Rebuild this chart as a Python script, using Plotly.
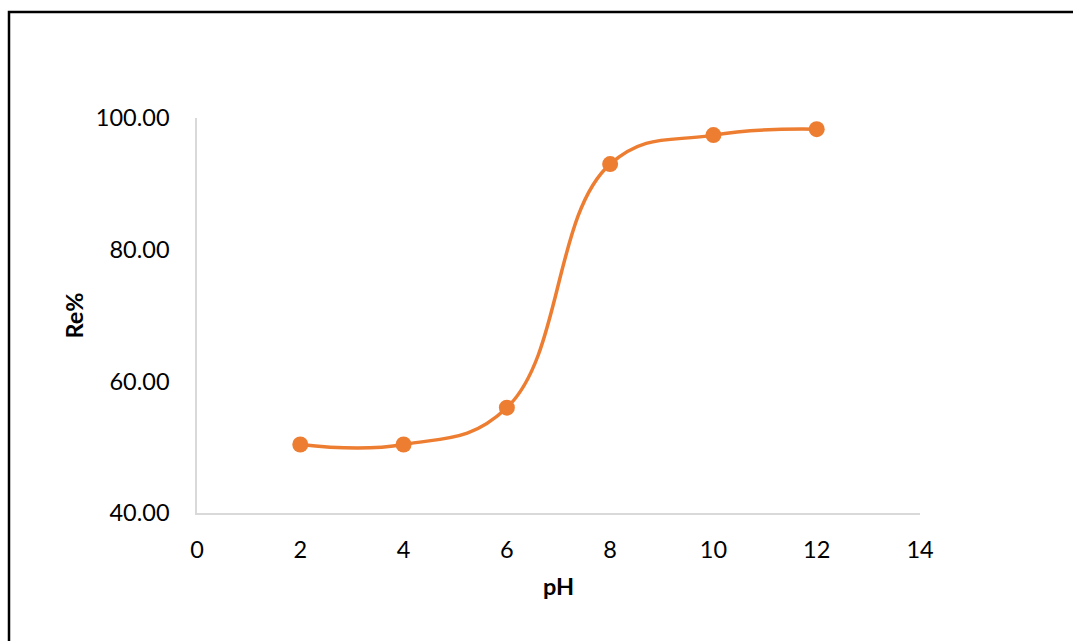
import plotly.graph_objects as go

ph = [2, 4, 6, 8, 10, 12]
re_pct = [50.4, 50.4, 56.0, 93.0, 97.4, 98.3]
x_ticks = [0, 2, 4, 6, 8, 10, 12, 14]
y_ticks = [40, 60, 80, 100]
y_tick_text = ["40.00", "60.00", "80.00", "100.00"]

orange = "#ED7D31"
font_family = "Lato, Carlito, Calibri, sans-serif"

fig = go.Figure()
fig.add_trace(go.Scatter(
    x=ph, y=re_pct, mode="lines+markers",
    line=dict(color=orange, width=3.5, shape="spline", smoothing=1.2),
    marker=dict(color=orange, size=16),
    showlegend=False,
))

fig.update_layout(
    width=1073, height=641,
    margin=dict(l=197, r=153, t=118, b=128),
    plot_bgcolor="white", paper_bgcolor="white",
    font=dict(family=font_family, size=23.5, color="black"),
    xaxis=dict(
        range=[0, 14], tickvals=x_ticks, ticks="", showgrid=False, zeroline=False,
        showline=True, linecolor="#D9D9D9", linewidth=1.5,
        ticklabelstandoff=15,
        title=dict(text="<b>pH</b>", font=dict(size=23.5), standoff=17),
    ),
    yaxis=dict(
        range=[40, 100], tickvals=y_ticks, ticktext=y_tick_text, ticks="",
        showgrid=False, zeroline=False,
        showline=True, linecolor="#D9D9D9", linewidth=1.5,
        ticklabelstandoff=21,
        title=dict(text="<b>Re%</b>", font=dict(size=23.5), standoff=6),
    ),
    shapes=[dict(
        type="rect", xref="paper", yref="paper",
        x0=(9 - 197) / 723, x1=(1100 - 197) / 723,
        y0=(513 - 700) / 395, y1=(513 - 12) / 395,
        line=dict(color="black", width=2.5), fillcolor="rgba(0,0,0,0)",
        layer="above",
    )],
)

fig.write_html("out.html")
